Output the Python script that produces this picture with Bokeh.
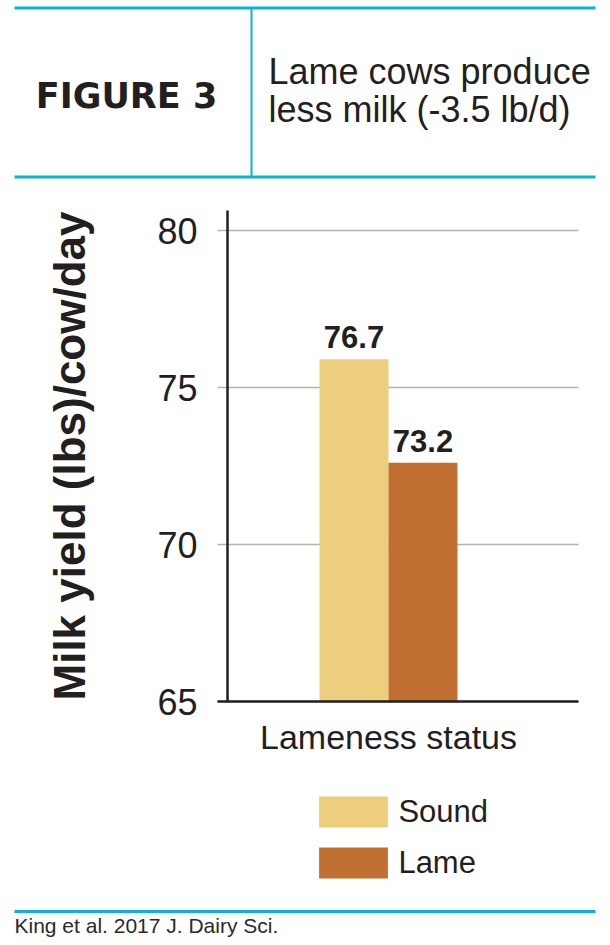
from bokeh.plotting import figure
from bokeh.models import (Range1d, FixedTicker, Legend, LegendItem, LinearAxis, Grid)
from bokeh.embed import file_html
from bokeh.resources import INLINE
from bokeh.core.properties import value

# ---- data ----
categories = ["Sound", "Lame"]
bar_heights = [75.9, 72.6]          # bar tops as drawn in the figure
value_labels = ["76.7", "73.2"]     # printed values
bar_colors = ["#edce7d", "#c27032"]
y_ticks = [65, 70, 75, 80]
y_base = 65
x_title = "Lameness status"
y_title = "Milk yield (lbs)/cow/day"
fig_label = "FIGURE 3"
headline = ["Lame cows produce", "less milk (-3.5 lb/d)"]
source_note = "King et al. 2017 J. Dairy Sci."

# ---- style / layout (canvas pixels) ----
TEAL = "#0ab3d5"
INK = "#231f20"
SANS = "Liberation Sans"
W, H = 610, 945
PX_PER_UNIT_Y = 31.4      # 5 units = 157 px
Y0_PX = 701               # canvas y of value 65
BAR_PX = 69               # bar width in px
BAR0_PX = 353.5           # canvas x of first bar centre
AXIS_X = 227              # canvas x of the y-axis line
PLOT_L, PLOT_R = 217, 578
PLOT_TOP = 210

p = figure(width=W, height=H, x_range=Range1d(0, W), y_range=Range1d(H, 0),
           output_backend="svg", toolbar_location=None, min_border=0,
           x_axis_location=None, y_axis_location=None, outline_line_color=None)
for r in list(p.center):
    if isinstance(r, Grid):
        r.visible = False

# chart coordinate systems
p.extra_x_ranges = {"bars": Range1d(-BAR0_PX / BAR_PX, (W - BAR0_PX) / BAR_PX)}
p.extra_y_ranges = {"milk": Range1d(y_base - (H - Y0_PX) / PX_PER_UNIT_Y,
                                    y_base + Y0_PX / PX_PER_UNIT_Y)}
x_lo = (PLOT_L - BAR0_PX) / BAR_PX
x_hi = (PLOT_R - BAR0_PX) / BAR_PX
y_hi = y_base + (Y0_PX - PLOT_TOP) / PX_PER_UNIT_Y

# ---- header ----
p.segment(x0=[14, 14], y0=[7.5, 176.5], x1=[595, 595], y1=[7.5, 176.5],
          line_color=TEAL, line_width=3)
p.segment(x0=[251], y0=[7.5], x1=[251], y1=[176.5], line_color=TEAL, line_width=2)
p.text(x=[126], y=[95], text=[fig_label], text_font=value("DejaVu Sans"),
       text_font_style="bold", text_font_size="35px", text_align="center",
       text_baseline="alphabetic", text_color=INK)
p.text(x=[268, 268], y=[70.5, 108.5], text=headline, text_font=value(SANS),
       text_font_size="36px", text_align="left", text_baseline="alphabetic",
       text_color=INK)

# ---- grid ----
grid = Grid(dimension=1, y_range_name="milk", ticker=FixedTicker(ticks=y_ticks),
            grid_line_color="#b3b3b3", grid_line_width=1.5,
            cross_bounds=(PLOT_L, PLOT_R))
p.add_layout(grid)

# ---- bars ----
xs = list(range(len(categories)))
renderers = []
for xi, top, col in zip(xs, bar_heights, bar_colors):
    r = p.vbar(x=[xi], width=1, bottom=y_base, top=[top], fill_color=col,
               line_color=None, x_range_name="bars", y_range_name="milk")
    renderers.append(r)

p.text(x=xs, y=bar_heights, text=value_labels, text_font=value(SANS),
       text_font_style="bold", text_font_size="31px", text_align="center",
       text_baseline="alphabetic", y_offset=-22, text_color=INK,
       x_range_name="bars", y_range_name="milk")

# ---- y axis ----
yax = LinearAxis(y_range_name="milk", fixed_location=AXIS_X, bounds=(y_base, y_hi),
                 ticker=FixedTicker(ticks=y_ticks))
yax.axis_line_color = INK
yax.axis_line_width = 2.5
yax.major_tick_line_color = None
yax.minor_tick_line_color = None
yax.major_tick_out = 0
yax.major_label_standoff = 30
yax.major_label_text_font = SANS
yax.major_label_text_font_size = "36px"
yax.major_label_text_color = INK
yax.axis_label = y_title
yax.axis_label_text_font = SANS
yax.axis_label_text_font_style = "bold"
yax.axis_label_text_font_size = "44px"
yax.axis_label_text_color = INK
yax.axis_label_standoff = 60
p.add_layout(yax, "left")

# ---- x axis ----
group_center = sum(xs) / len(xs)
xax = LinearAxis(x_range_name="bars", y_range_name="milk", fixed_location=y_base,
                 bounds=(x_lo, x_hi), ticker=FixedTicker(ticks=[group_center]))
xax.major_label_overrides = {group_center: x_title}
xax.axis_line_color = INK
xax.axis_line_width = 2.5
xax.major_tick_line_color = None
xax.minor_tick_line_color = None
xax.major_tick_out = 0
xax.major_label_standoff = 16
xax.major_label_text_font = SANS
xax.major_label_text_font_size = "34px"
xax.major_label_text_color = INK
p.add_layout(xax, "below")

# ---- legend ----
legend = Legend(items=[LegendItem(label=c, renderers=[r]) for c, r in zip(categories, renderers)],
                location=(310.4, 63), orientation="vertical", glyph_width=86, glyph_height=39,
                label_height=39, label_text_font=SANS, label_text_font_size="31px",
                label_text_color=INK, label_standoff=2, spacing=12, padding=0, margin=0,
                border_line_color=None, background_fill_alpha=0)
p.add_layout(legend)

# ---- footer ----
p.segment(x0=[14], y0=[911], x1=[595], y1=[911], line_color=TEAL, line_width=3)
p.text(x=[14], y=[924.5], text=[source_note], text_font=value(SANS),
       text_font_size="21px", text_align="left", text_baseline="alphabetic",
       text_color="#2a2a2a")

open("out.html", "w").write(file_html(p, INLINE))
